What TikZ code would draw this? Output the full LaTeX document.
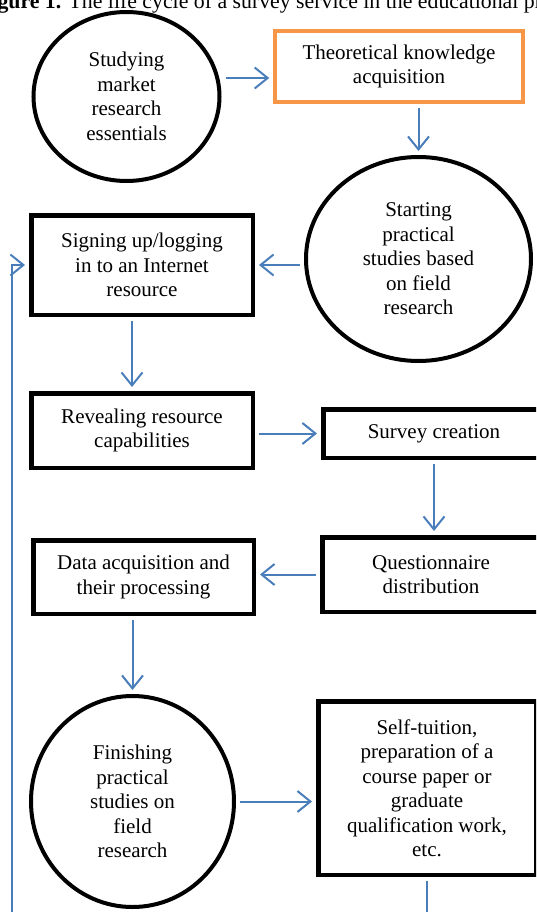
\documentclass[tikz,border=0pt]{standalone}
\usepackage{fontspec}
\setmainfont{Liberation Serif}
\usetikzlibrary{arrows.meta,shapes.geometric}
\definecolor{flowblue}{HTML}{4A7EBB}
\definecolor{keyorange}{HTML}{F79646}

\begin{document}
\begin{tikzpicture}[x=1pt,y=-1pt,
                every node/.style={font=\fontsize{21}{24.5}\selectfont,align=center,inner sep=0pt},
                stage/.style={draw,rectangle,line width=4.5pt},
                milestone/.style={draw,ellipse,line width=4pt},
                flow/.style={draw=flowblue,line width=2pt,-{Straight Barb[length=13pt,width=21pt]},shorten <=4pt,shorten >=4pt}]
                \useasboundingbox (0,0) rectangle (536,912);
                \clip (0,0) rectangle (536,912);
                \node[anchor=base west,font=\fontsize{21.8}{24}\selectfont] (caption) at (-22,9) {\textbf{Figure 1.} The life cycle of a survey service in the educational process};
                \node[milestone,minimum width=186pt,minimum height=169pt] (essentials) at (126.5,96.5) {Studying\\market\\research\\essentials};
                \node[draw=keyorange,line width=4pt,minimum width=247.5pt,minimum height=71pt] (theory) at (399,66.5) {Theoretical knowledge\\acquisition};
                \node[milestone,minimum width=225pt,minimum height=204pt] (starting) at (418.5,259) {Starting\\practical\\studies based\\on field\\research};
                \node[stage,minimum width=221.5pt,minimum height=99.5pt] (signing) at (142,265) {Signing up/logging\\in to an Internet\\resource};
                \node[stage,minimum width=221.5pt,minimum height=74.5pt] (revealing) at (142,430.5) {Revealing resource\\capabilities};
                \node[stage,minimum width=221.5pt,minimum height=48.5pt] (survey) at (434,433.5) {Survey creation};
                \node[stage,minimum width=217.5pt,minimum height=74.5pt] (questionnaire) at (431,574.5) {Questionnaire\\distribution};
                \node[stage,minimum width=220.5pt,minimum height=73.5pt] (data) at (143.5,577) {Data acquisition and\\their processing};
                \node[milestone,minimum width=203pt,minimum height=211pt] (finishing) at (132.5,801.5) {Finishing\\practical\\studies on\\field\\research};
                \node[stage,minimum width=217.5pt,minimum height=173.5pt] (selftuition) at (427,788) {Self-tuition,\\preparation of a\\course paper or\\graduate\\qualification work,\\etc.};
                \coordinate (loopcorner) at (12,940);
                \draw[flow] (essentials.east |- 0,78) -- (theory.west |- 0,78);
                \draw[flow] (theory.south -| starting.north) -- (starting.north);
                \draw[flow] (starting.west |- signing.east) -- (signing.east);
                \draw[flow] ([xshift=-10pt]signing.south) -- ([xshift=-10pt]revealing.north);
                \draw[flow] (revealing.east |- survey.west) -- (survey.west);
                \draw[flow] (survey.south) -- (survey.south |- questionnaire.north);
                \draw[flow] (questionnaire.west) -- (questionnaire.west -| data.east);
                \draw[flow] (data.south -| finishing.north) -- (finishing.north);
                \draw[flow] (finishing.east) -- (finishing.east -| selftuition.west);
                \draw[flow] (selftuition.south) |- (loopcorner) |- (signing.west);
            \end{tikzpicture}
\end{document}
